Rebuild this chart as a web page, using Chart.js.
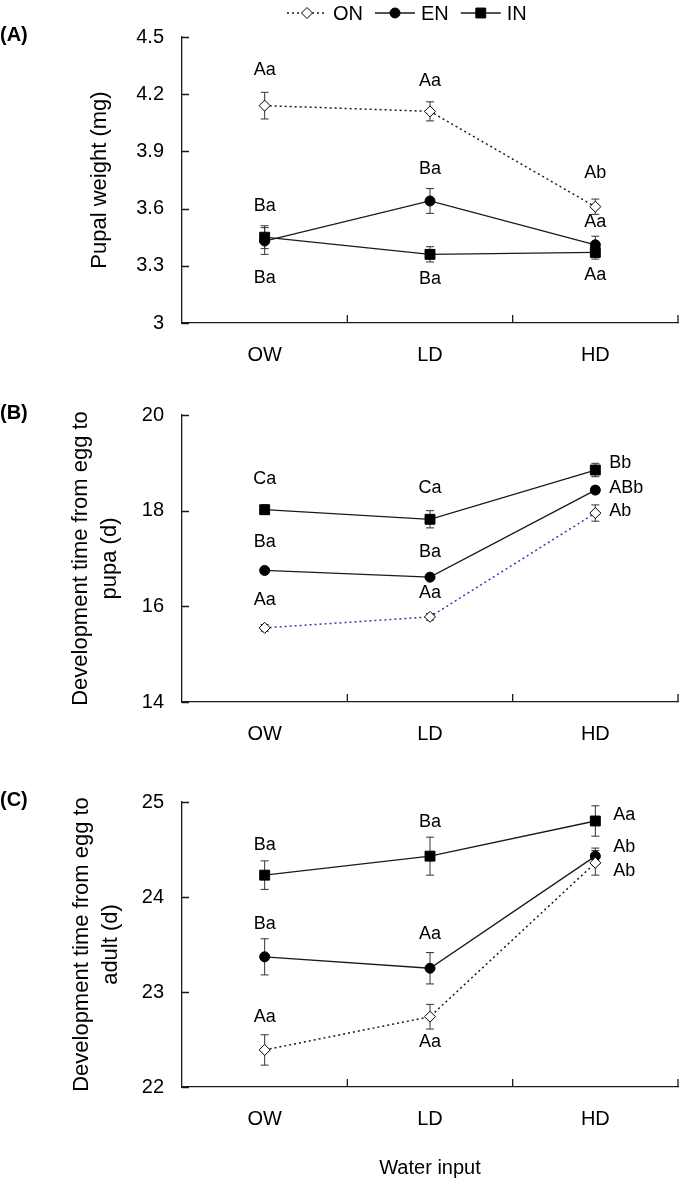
<!DOCTYPE html>
<html>
<head>
<meta charset="utf-8">
<script src="https://cdn.jsdelivr.net/npm/chart.js@4.4.0/dist/chart.umd.min.js"></script>
<style>
  body { margin: 0; background: #fff; width: 686px; height: 1180px; position: relative; overflow: hidden; }
  .panel { position: absolute; left: 0; width: 686px; }
</style>
</head>
<body>
<div class="panel" style="top:0;height:380px"><canvas id="chartA"></canvas></div>
<div class="panel" style="top:380px;height:365px"><canvas id="chartB"></canvas></div>
<div class="panel" style="top:745px;height:435px"><canvas id="chartC"></canvas></div>
<script>
// categories and series
const waterInput = ['OW', 'LD', 'HD'];
const seriesNames = ['ON', 'EN', 'IN'];

// (A) pupal weight (mg), means and SE
const pupalON = [4.14, 4.11, 3.61];
const pupalEN = [3.43, 3.64, 3.41];
const pupalIN = [3.45, 3.36, 3.37];
const pupalErrON = [0.07, 0.05, 0.04];
const pupalErrEN = [0.07, 0.065, 0.045];
const pupalErrIN = [0.06, 0.04, 0.035];
const pupalTicks = [3, 3.3, 3.6, 3.9, 4.2, 4.5];
const pupalLetters = [['Aa', 'Aa', 'Ab'], ['Ba', 'Ba', 'Aa'], ['Ba', 'Ba', 'Aa']];

// (B) egg to pupa (d)
const pupaON = [15.55, 15.78, 17.95];
const pupaEN = [16.75, 16.61, 18.43];
const pupaIN = [18.02, 17.82, 18.85];
const pupaErrON = [0.07, 0.07, 0.17];
const pupaErrEN = [0.04, 0.05, 0.07];
const pupaErrIN = [0.1, 0.18, 0.14];
const pupaTicks = [14, 16, 18, 20];
const pupaLetters = [['Aa', 'Aa', 'Ab'], ['Ba', 'Ba', 'ABb'], ['Ca', 'Ca', 'Bb']];

// (C) egg to adult (d)
const adultON = [22.39, 22.74, 24.36];
const adultEN = [23.37, 23.25, 24.43];
const adultIN = [24.23, 24.43, 24.8];
const adultErrON = [0.16, 0.13, 0.13];
const adultErrEN = [0.19, 0.165, 0.085];
const adultErrIN = [0.15, 0.2, 0.16];
const adultTicks = [22, 23, 24, 25];
const adultLetters = [['Aa', 'Aa', 'Ab'], ['Ba', 'Aa', 'Ab'], ['Ba', 'Ba', 'Aa']];

const FONT = "'Liberation Sans', Arial, Helvetica, sans-serif";
const INK = '#1a1a1a';

// where each letter label sits relative to its point: c = centred, r = right of point
const placeA = [
  [{a: 'c', dy: -36}, {a: 'c', dy: -30}, {a: 'c', dy: -34}],
  [{a: 'c', dy: -35}, {a: 'c', dy: -32}, {a: 'c', dy: -23}],
  [{a: 'c', dy: 41}, {a: 'c', dy: 25}, {a: 'c', dy: 23}]
];
const placeB = [
  [{a: 'c', dy: -28}, {a: 'c', dy: -24}, {a: 'r', dx: 14, dy: -2}],
  [{a: 'c', dy: -28}, {a: 'c', dy: -25}, {a: 'r', dx: 14, dy: -2}],
  [{a: 'c', dy: -31}, {a: 'c', dy: -31}, {a: 'r', dx: 14, dy: -7}]
];
const placeC = [
  [{a: 'c', dy: -33}, {a: 'c', dy: 25}, {a: 'r', dx: 18, dy: 8}],
  [{a: 'c', dy: -33}, {a: 'c', dy: -34}, {a: 'r', dx: 18, dy: -9}],
  [{a: 'c', dy: -30}, {a: 'c', dy: -34}, {a: 'r', dx: 18, dy: -6}]
];

const markerStyles = [
  {pointStyle: 'rectRot', radius: 5.5, fill: '#fff'},
  {pointStyle: 'circle', radius: 5, fill: '#000'},
  {pointStyle: 'rect', radius: 7, fill: '#000'}
];

function drawMarker(ctx, i, x, y) {
  const m = markerStyles[i];
  ctx.save();
  ctx.setLineDash([]);
  ctx.fillStyle = m.fill;
  ctx.strokeStyle = '#000';
  ctx.lineWidth = 1;
  Chart.helpers.drawPoint(ctx, {pointStyle: m.pointStyle, radius: m.radius, rotation: 0, borderWidth: 1}, x, y);
  ctx.restore();
}

const decorPlugin = {
  id: 'decor',
  beforeDatasetsDraw(chart, args, opts) {
    const ctx = chart.ctx;
    const ys = chart.scales.y;
    ctx.save();
    ctx.strokeStyle = '#333';
    ctx.lineWidth = 1;
    chart.data.datasets.forEach((ds, i) => {
      const meta = chart.getDatasetMeta(i);
      ds.data.forEach((v, j) => {
        const e = opts.errors[i][j];
        const x = meta.data[j].x;
        const y1 = ys.getPixelForValue(v + e);
        const y2 = ys.getPixelForValue(v - e);
        ctx.beginPath();
        ctx.moveTo(x, y1); ctx.lineTo(x, y2);
        ctx.moveTo(x - 4, y1); ctx.lineTo(x + 4, y1);
        ctx.moveTo(x - 4, y2); ctx.lineTo(x + 4, y2);
        ctx.stroke();
      });
    });
    ctx.restore();
  },
  afterDatasetsDraw(chart, args, opts) {
    const ctx = chart.ctx;
    ctx.save();
    ctx.fillStyle = '#000';
    ctx.font = '18px ' + FONT;
    ctx.textBaseline = 'middle';
    opts.letters.forEach((row, i) => {
      const meta = chart.getDatasetMeta(i);
      row.forEach((txt, j) => {
        const p = opts.place[i][j];
        const pt = meta.data[j];
        if (p.a === 'r') {
          ctx.textAlign = 'left';
          ctx.fillText(txt, pt.x + p.dx, pt.y + p.dy);
        } else {
          ctx.textAlign = 'center';
          ctx.fillText(txt, pt.x, pt.y + p.dy);
        }
      });
    });
    ctx.restore();
  },
  afterDraw(chart, args, opts) {
    const ctx = chart.ctx;
    const area = chart.chartArea;
    const xs = chart.scales.x;
    const ys = chart.scales.y;
    ctx.save();
    // inward tick marks
    ctx.strokeStyle = INK;
    ctx.lineWidth = 1.3;
    ctx.beginPath();
    ys.ticks.forEach(t => {
      const y = Math.round(ys.getPixelForValue(t.value)) + 0.5;
      ctx.moveTo(area.left, y); ctx.lineTo(area.left + 7, y);
    });
    const n = xs.ticks.length;
    for (let i = 0; i < n; i++) {
      const x = i < n - 1 ? (xs.getPixelForTick(i) + xs.getPixelForTick(i + 1)) / 2 : area.right;
      ctx.moveTo(x, area.bottom); ctx.lineTo(x, area.bottom - 8);
    }
    ctx.stroke();
    // panel letter
    ctx.fillStyle = '#000';
    ctx.font = 'bold 20px ' + FONT;
    ctx.textAlign = 'left';
    ctx.textBaseline = 'middle';
    ctx.fillText(opts.panel, 0, area.top - 2);
    // legend (top panel only)
    if (opts.legend) {
      let x = 287;
      const y = 13;
      ctx.font = '20px ' + FONT;
      chart.data.datasets.forEach((ds, i) => {
        ctx.strokeStyle = ds.borderColor;
        ctx.lineWidth = i === 0 ? 1.5 : 1.3;
        ctx.setLineDash(ds.borderDash || []);
        ctx.beginPath();
        ctx.moveTo(x, y); ctx.lineTo(x + 40, y);
        ctx.stroke();
        drawMarker(ctx, i, x + 20, y);
        ctx.fillStyle = '#000';
        ctx.fillText(seriesNames[i], x + 46, y + 1);
        x += 46 + ctx.measureText(seriesNames[i]).width + 12;
      });
    }
    ctx.restore();
  }
};

function makeDataset(i, values, lineColor) {
  const m = markerStyles[i];
  return {
    label: seriesNames[i],
    data: values,
    borderColor: lineColor,
    borderWidth: i === 0 ? 1.5 : 1.3,
    borderDash: i === 0 ? [2, 3] : [],
    pointStyle: m.pointStyle,
    pointRadius: m.radius,
    pointHoverRadius: m.radius,
    pointBackgroundColor: m.fill,
    pointBorderColor: '#000',
    pointBorderWidth: 1,
    tension: 0,
    fill: false
  };
}

function makePanel(id, cfg) {
  const ctx = document.getElementById(id).getContext('2d');
  const h = ctx.canvas.parentNode.clientHeight;
  return new Chart(ctx, {
    type: 'line',
    data: {
      labels: waterInput,
      datasets: [
        makeDataset(0, cfg.series[0], cfg.onColor),
        makeDataset(1, cfg.series[1], INK),
        makeDataset(2, cfg.series[2], INK)
      ]
    },
    options: {
      responsive: true,
      maintainAspectRatio: false,
      animation: false,
      events: [],
      layout: { padding: { left: 0, right: 3, top: cfg.top, bottom: 0 } },
      scales: {
        x: {
          type: 'category',
          offset: true,
          grid: { display: false, drawTicks: false },
          border: { display: true, color: INK, width: 1.3 },
          ticks: { color: '#000', font: { family: FONT, size: 20 }, padding: 20 },
          title: {
            display: !!cfg.xTitle,
            text: cfg.xTitle || '',
            color: '#000',
            font: { family: FONT, size: 20, lineHeight: 1.2 },
            padding: { top: 0, bottom: 0 }
          },
          afterFit: s => { s.height = h - cfg.bottom; }
        },
        y: {
          min: cfg.ticks[0],
          max: cfg.ticks[cfg.ticks.length - 1],
          grid: { display: false, drawTicks: false },
          border: { display: true, color: INK, width: 1.3 },
          afterBuildTicks: s => { s.ticks = cfg.ticks.map(v => ({ value: v })); },
          ticks: { color: '#000', font: { family: FONT, size: 20 }, padding: 18, callback: v => String(v) },
          title: {
            display: true,
            text: cfg.yTitle,
            color: '#000',
            font: { family: FONT, size: 22, lineHeight: 1.3 },
            padding: { top: cfg.titlePad, bottom: 0 }
          },
          afterFit: s => { s.width = 182; }
        }
      },
      plugins: {
        legend: { display: false },
        tooltip: { enabled: false },
        decor: {
          panel: cfg.panel,
          legend: cfg.legend,
          errors: cfg.errors,
          letters: cfg.letters,
          place: cfg.place
        }
      }
    },
    plugins: [decorPlugin]
  });
}

makePanel('chartA', {
  panel: '(A)', legend: true, top: 37, bottom: 323, titlePad: 86,
  onColor: INK,
  yTitle: 'Pupal weight (mg)',
  ticks: pupalTicks,
  series: [pupalON, pupalEN, pupalIN],
  errors: [pupalErrON, pupalErrEN, pupalErrIN],
  letters: pupalLetters, place: placeA
});

makePanel('chartB', {
  panel: '(B)', legend: false, top: 35, bottom: 322, titlePad: 67,
  onColor: '#3a3ab0',
  yTitle: ['Development time from egg to', 'pupa (d)'],
  ticks: pupaTicks,
  series: [pupaON, pupaEN, pupaIN],
  errors: [pupaErrON, pupaErrEN, pupaErrIN],
  letters: pupaLetters, place: placeB
});

makePanel('chartC', {
  panel: '(C)', legend: false, top: 57, bottom: 342, titlePad: 68,
  onColor: INK,
  yTitle: ['Development time from egg to', 'adult (d)'],
  xTitle: 'Water input',
  ticks: adultTicks,
  series: [adultON, adultEN, adultIN],
  errors: [adultErrON, adultErrEN, adultErrIN],
  letters: adultLetters, place: placeC
});
</script>
</body>
</html>
